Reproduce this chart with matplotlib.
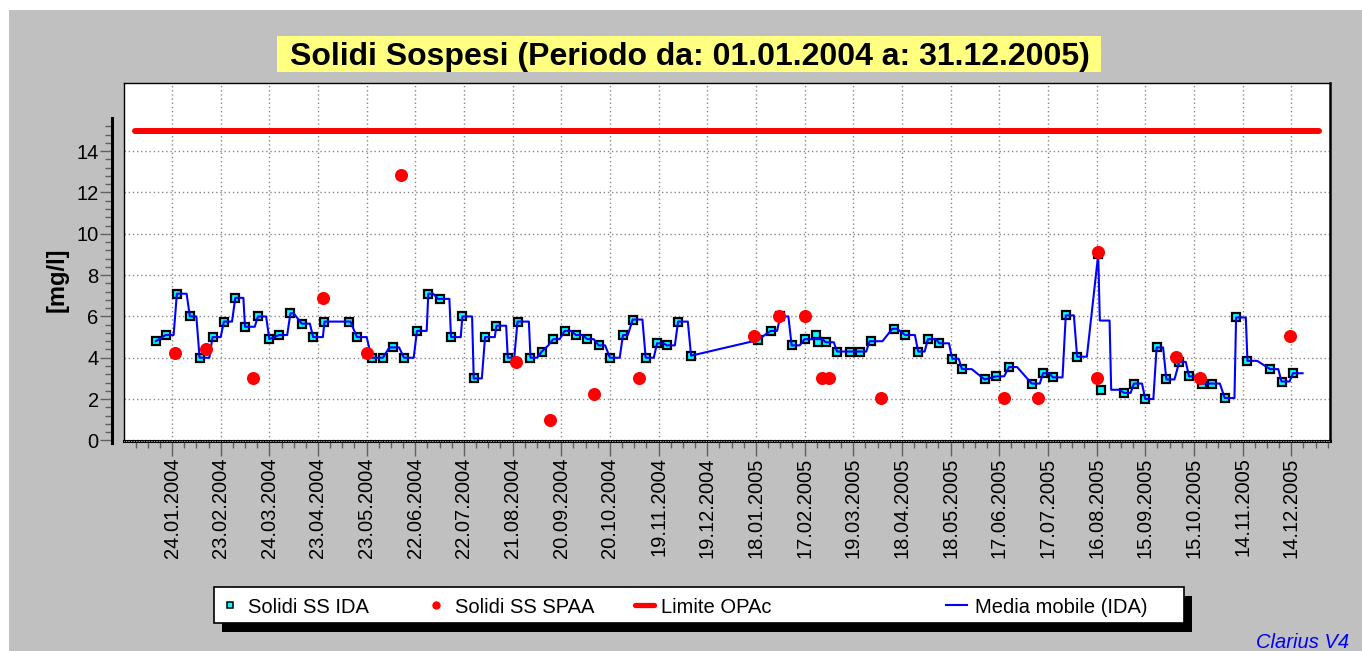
import datetime as dt
import numpy as np
import matplotlib
matplotlib.use("Agg")
import matplotlib.pyplot as plt
import matplotlib.dates as mdates
from matplotlib.lines import Line2D
from matplotlib.patches import Rectangle
from matplotlib.ticker import FixedLocator

plt.rcParams['font.family'] = ['Liberation Sans', 'DejaVu Sans']

# all days are counted from 01.01.2004
ida_days = [13, 19, 26, 34, 40, 48, 55, 62, 68, 76, 83, 89, 96, 103, 110, 117, 132, 137, 146, 153,
            159, 166, 174, 181, 188, 195, 202, 209, 216, 223, 230, 236, 244, 251, 258, 265, 272, 279, 286, 293,
            301, 307, 315, 322, 328, 335, 343, 384, 392, 398, 405, 413, 420, 421, 426, 433, 441, 447, 454, 468,
            475, 483, 489, 496, 504, 510, 524, 531, 539, 553, 560, 566, 574, 581, 594, 596, 610, 616, 623, 630,
            636, 644, 650, 658, 664, 672, 679, 686, 700, 707, 714]
ida_vals = [4.8, 5.1, 7.1, 6.0, 4.0, 5.0, 5.75, 6.9, 5.5, 6.0, 4.9, 5.1, 6.15, 5.65, 5.0, 5.75, 5.75, 5.0, 4.0, 4.0,
            4.5, 4.0, 5.3, 7.1, 6.85, 5.0, 6.0, 3.0, 5.0, 5.55, 4.0, 5.75, 4.0, 4.3, 4.9, 5.3, 5.1, 4.9, 4.6, 4.0,
            5.1, 5.85, 4.0, 4.7, 4.6, 5.75, 4.1, 4.85, 5.3, 6.0, 4.6, 4.9, 5.1, 4.75, 4.75, 4.3, 4.3, 4.3, 4.8, 5.4,
            5.1, 4.3, 4.9, 4.7, 3.95, 3.45, 2.95, 3.1, 3.55, 2.75, 3.25, 3.05, 6.05, 4.05, 9.0, 2.45, 2.3, 2.75, 2.0, 4.5,
            2.95, 3.8, 3.1, 2.75, 2.75, 2.05, 5.95, 3.85, 3.45, 2.85, 3.25]

spaa_days = [25, 44, 73, 116, 143, 164, 235, 256, 283, 311, 382, 397, 413, 424, 428, 460, 536, 557, 593, 594,
             642, 657, 712]
spaa_vals = [4.25, 4.4, 3.0, 6.9, 4.25, 12.85, 3.8, 1.0, 2.25, 3.0, 5.05, 6.0, 6.0, 3.0, 3.0, 2.05, 2.05, 2.05, 3.0, 9.1,
             4.05, 3.0, 5.05]

ma_days = [13, 19, 24, 26, 32, 34, 38, 40, 46, 48, 53, 55, 60, 62, 67, 68, 74, 76, 81, 83,
           89, 94, 96, 98, 103, 108, 110, 116, 117, 133, 137, 143, 146, 153, 157, 163, 166, 172, 174, 180,
           181, 184, 187, 194, 195, 201, 202, 208, 209, 214, 216, 222, 223, 229, 230, 234, 236, 243, 244, 248,
           251, 255, 258, 262, 265, 269, 272, 276, 279, 283, 286, 290, 293, 299, 301, 304, 307, 313, 315, 320,
           322, 326, 328, 333, 335, 341, 343, 384, 392, 396, 398, 403, 405, 410, 413, 424, 426, 431, 433, 451,
           453, 461, 467, 470, 475, 481, 483, 487, 489, 494, 496, 502, 504, 508, 510, 516, 524, 531, 536, 539,
           544, 553, 558, 560, 564, 566, 572, 574, 579, 581, 587, 594, 595, 601, 602, 607, 610, 614, 616, 621,
           623, 628, 630, 634, 636, 641, 644, 648, 650, 655, 658, 669, 672, 678, 679, 685, 686, 692, 700, 705,
           707, 712, 714, 720]
ma_vals = [4.8, 5.1, 5.1, 7.1, 7.1, 6.0, 6.0, 4.0, 4.0, 5.0, 5.0, 5.75, 5.75, 6.9, 6.9, 5.5, 5.5, 6.0, 6.0, 4.9,
           5.1, 5.1, 6.15, 6.15, 5.65, 5.65, 5.0, 5.0, 5.75, 5.75, 5.0, 5.0, 4.0, 4.0, 4.5, 4.5, 4.0, 4.0, 5.3, 5.3,
           7.1, 7.1, 6.85, 6.85, 5.0, 5.0, 6.0, 6.0, 3.0, 3.0, 5.0, 5.0, 5.55, 5.55, 4.0, 4.0, 5.75, 5.75, 4.0, 4.0,
           4.3, 4.6, 4.9, 4.9, 5.3, 5.3, 5.1, 5.1, 4.9, 4.9, 4.6, 4.6, 4.0, 4.0, 5.1, 5.1, 5.85, 5.85, 4.0, 4.0,
           4.7, 4.7, 4.6, 4.6, 5.75, 5.75, 4.1, 4.85, 5.3, 5.3, 6.0, 6.0, 4.6, 4.6, 4.9, 4.9, 4.75, 4.75, 4.3, 4.3,
           4.8, 4.8, 5.4, 5.4, 5.1, 5.1, 4.3, 4.3, 4.9, 4.9, 4.7, 4.7, 3.95, 3.95, 3.45, 3.45, 2.95, 3.1, 3.1, 3.55,
           3.55, 2.75, 2.75, 3.25, 3.25, 3.05, 3.05, 6.05, 6.05, 4.05, 4.05, 9.0, 5.8, 5.8, 2.45, 2.45, 2.3, 2.3, 2.75, 2.75,
           2.0, 2.0, 4.5, 4.5, 2.95, 2.95, 3.8, 3.8, 3.1, 3.1, 2.75, 2.75, 2.05, 2.05, 5.95, 5.95, 3.85, 3.85, 3.45, 3.45,
           2.85, 2.85, 3.25, 3.25]

limit_days = [0, 730]
limit_vals = [15, 15]

tick_labels = ['24.01.2004', '23.02.2004', '24.03.2004', '23.04.2004', '23.05.2004', '22.06.2004',
               '22.07.2004', '21.08.2004', '20.09.2004', '20.10.2004', '19.11.2004', '19.12.2004',
               '18.01.2005', '17.02.2005', '19.03.2005', '18.04.2005', '18.05.2005', '17.06.2005',
               '17.07.2005', '16.08.2005', '15.09.2005', '15.10.2005', '14.11.2005', '14.12.2005']
y_ticks = [0, 2, 4, 6, 8, 10, 12, 14]

title = 'Solidi Sospesi (Periodo da: 01.01.2004 a: 31.12.2005)'
legend_labels = ['Solidi SS IDA', 'Solidi SS SPAA', 'Limite OPAc', 'Media mobile (IDA)']

start = dt.date(2004, 1, 1)


def to_dates(days):
    return [start + dt.timedelta(days=d) for d in days]


W, H = 1362, 651


def fx(px):
    return px / W


def fy(py):
    return 1 - py / H


fig = plt.figure(figsize=(W / 100, H / 100), dpi=100, facecolor='white')
fig.add_artist(Rectangle((fx(9), 0), 1, 1 - 10 / H, transform=fig.transFigure,
                         facecolor='#c0c0c0', edgecolor='none', zorder=0))

# title box
fig.add_artist(Rectangle((fx(277), fy(72)), (1101 - 277) / W, 36 / H, transform=fig.transFigure,
                         facecolor='#ffff80', edgecolor='none', zorder=1))
fig.text(fx(690), fy(65), title, ha='center', va='baseline', fontsize=23, fontweight='bold', zorder=2)

ax = fig.add_axes([fx(124), fy(441), (1330 - 124) / W, (441 - 83) / H])
ax.set_facecolor('white')

ax.plot(to_dates(limit_days), limit_vals, color='#ff0000', lw=4.3, solid_capstyle='round', zorder=3)
ax.plot(to_dates(ida_days), ida_vals, ls='none', marker='s', ms=6.2, mfc='#00ffff', mec='black', mew=1.6, zorder=4)
ax.plot(to_dates(ma_days), ma_vals, color='#0000ff', lw=1.5, zorder=5)
ax.plot(to_dates(spaa_days), spaa_vals, ls='none', marker='o', ms=9.4, mfc='#ff0000', mec='none', zorder=6)

x0 = mdates.date2num(start)
ax.set_xlim(x0 - 6.6, x0 + 736.9)
ax.set_ylim(-0.03, 17.3)

tick_nums = [mdates.date2num(dt.datetime.strptime(t, '%d.%m.%Y')) for t in tick_labels]
ax.set_xticks(tick_nums)
ax.set_xticklabels(tick_labels, rotation=90)
ax.xaxis.set_minor_locator(FixedLocator(tick_nums[0] + 7.5 * np.arange(-4, 100)))
ax.set_yticks(y_ticks)
ax.set_yticklabels([str(v) for v in y_ticks])
ax.yaxis.set_minor_locator(FixedLocator(np.arange(0, 15.3, 0.4)))

ax.tick_params(axis='x', which='major', length=10.8, width=1, color='#606060', labelsize=14.5, pad=1)
ax.tick_params(axis='x', which='minor', length=5, width=1, color='#606060')
ax.tick_params(axis='y', which='major', length=8.6, width=1, color='#606060', labelsize=14.5, pad=1)
ax.tick_params(axis='y', which='minor', length=5, width=1, color='#606060')

ax.grid(True, which='major', color='#888888', lw=1.0, ls=(0, (1, 2)))
ax.set_axisbelow(True)

ax.spines['left'].set_position(('outward', 8.6))
ax.spines['left'].set_bounds(-0.13, 15.6)
ax.spines['left'].set_linewidth(2.2)
ax.spines['bottom'].set_linewidth(2.2)
ax.spines['right'].set_linewidth(1.8)
ax.spines['top'].set_linewidth(1.0)
ax.add_line(Line2D([0, 0], [0, 1], transform=ax.transAxes, color='black', lw=1.0, clip_on=False, zorder=7))
ax.add_line(Line2D([0, 1], [0, 0], transform=ax.transAxes, color='white', lw=0.7,
                   ls=(0, (0.6, 1.1)), clip_on=False, zorder=8))

fig.text(fx(57), fy(280), '[mg/l]', rotation=90, ha='center', va='center', fontsize=17, fontweight='bold')

# legend
fig.add_artist(Rectangle((fx(222), fy(632)), (1192 - 222) / W, 36 / H, transform=fig.transFigure,
                         facecolor='black', edgecolor='none', zorder=3))
fig.add_artist(Rectangle((fx(214), fy(623)), (1184 - 214) / W, 36 / H, transform=fig.transFigure,
                         facecolor='white', edgecolor='black', lw=1.2, zorder=4))
ly = fy(605)
fig.add_artist(Line2D([fx(230)], [ly], marker='s', ms=4.5, mfc='#00ffff', mec='black', mew=1.1,
                      transform=fig.transFigure, zorder=5))
fig.add_artist(Line2D([fx(436)], [ly], marker='o', ms=6, mfc='#ff0000', mec='none',
                      transform=fig.transFigure, zorder=5))
fig.add_artist(Line2D([fx(635), fx(654)], [ly, ly], color='#ff0000', lw=3.8, solid_capstyle='round',
                      transform=fig.transFigure, zorder=5))
fig.add_artist(Line2D([fx(946), fx(967)], [ly, ly], color='#0000ff', lw=1.5,
                      transform=fig.transFigure, zorder=5))
for xpos, lab in zip([248, 455, 661, 975], legend_labels):
    fig.text(fx(xpos), fy(613), lab, ha='left', va='baseline', fontsize=14.5, zorder=6)

fig.text(fx(1256), fy(648), 'Clarius V4', ha='left', va='baseline', fontsize=14.5,
         style='italic', color='#0000ff')

fig.savefig('out.png', dpi=100, facecolor=fig.get_facecolor())
